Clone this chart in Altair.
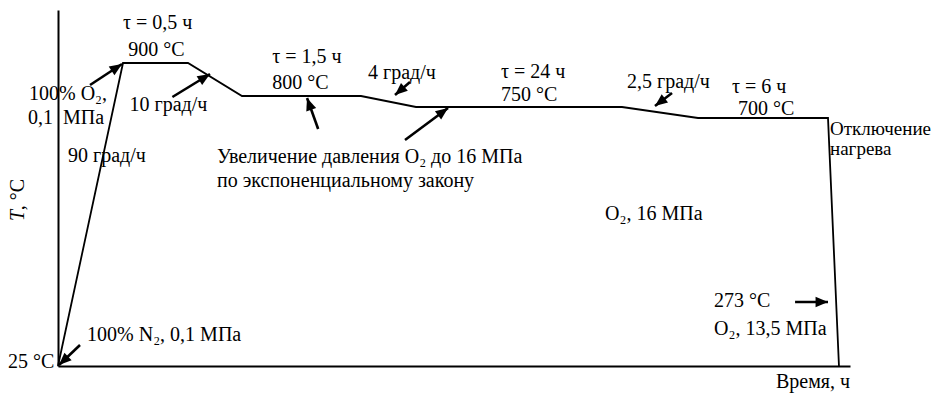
import altair as alt
import pandas as pd

# ---- heat-treatment profile (time in h, temperature in °C) ----
time_h = [0, 9.72, 10.22, 20.22, 21.72, 34.22, 58.22, 78.22, 84.22, 87.6]
temp_c = [25, 900, 900, 800, 800, 750, 750, 700, 700, 25]

# ---- schematic (non-uniform) axis breakpoints ----
x_breaks = [0, 9.72, 10.22, 20.22, 21.72, 34.22, 58.22, 78.22, 84.22, 91]
x_pixels = [0, 65, 130, 184, 303, 358, 564, 640, 770, 792]
y_breaks = [25, 700, 750, 800, 900, 1060]
y_pixels = [356, 108, 97, 86, 53, 0]

# ---- annotations ----
label_text = [
    "τ = 0,5 ч", "900 °C", "100% O₂,", "0,1\u00a0\u00a0МПа", "10 град/ч", "90 град/ч",
    "τ = 1,5 ч", "800 °C", "4 град/ч", "τ = 24 ч", "750 °C",
    "Увеличение давления O₂ до 16 МПа", "по экспоненциальному закону",
    "2,5 град/ч", "τ = 6 ч", "700 °C",
    "O₂, 16 МПа", "273 °C", "O₂, 13,5 МПа", "Время, ч", "25 °C",
    "100% N₂, 0,1 МПа",
]
label_t = [
    9.72, 9.76, -4.34, -4.49, 9.77, 1.50,
    20.60, 20.60, 23.31, 44.12, 44.12,
    15.59, 15.59,
    59.54, 79.79, 80.07,
    56.24, 78.96, 78.96, 81.82, -7.48,
    4.34,
]
label_T = [
    1002.6, 921.1, 781.8, 683.7, 731.8, 580.2,
    900.0, 821.2, 851.5, 854.5, 777.3,
    577.5, 512.2,
    824.2, 809.1, 713.6,
    422.4, 185.6, 109.4, -34.9, 19.5,
    93.0,
]

# label at the right edge ("heating off")
edge_text = ["Отключение", "нагрева"]
edge_t = [84.84, 84.84]
edge_T = [653.7, 599.3]

# arrows: tail -> tip
arrow_t0 = [4.79, 10.10, 3.29, 21.18, 31.72, 32.86, 71.38, 82.70]
arrow_T0 = [833.3, 795.5, 82.2, 670.1, 640.1, 842.4, 809.1, 199.2]
arrow_t1 = [9.57, 14.29, 0.15, 21.04, 37.95, 29.45, 66.90, 84.22]
arrow_T1 = [897.0, 866.7, 27.7, 790.9, 745.5, 803.0, 754.5, 199.2]
arrow_dir = [56.7, 58.1, 226.4, 340.5, 53.3, 229.0, 232.6, 90.0]

# axis title pieces (rotated)
ytitle_text = ["T", ", °C"]
ytitle_t = [-5.08, -5.08]
ytitle_T = [419.7, 449.0]

FONT = "Liberation Serif"
FS = 20

xscale = alt.Scale(type="linear", domain=x_breaks, range=x_pixels, nice=False, zero=False)
yscale = alt.Scale(type="linear", domain=y_breaks, range=y_pixels, nice=False, zero=False)
xaxis = alt.Axis(domain=True, ticks=False, labels=False, grid=False, title=None,
                 domainColor="black", domainWidth=2)
yaxis = alt.Axis(domain=True, ticks=False, labels=False, grid=False, title=None,
                 domainColor="black", domainWidth=2)


def X(f):
    return alt.X(f, type="quantitative", scale=xscale, axis=xaxis)


def Y(f):
    return alt.Y(f, type="quantitative", scale=yscale, axis=yaxis)


profile = pd.DataFrame({"t": time_h, "T": temp_c, "order": range(len(time_h))})
labels = pd.DataFrame({"t": label_t, "T": label_T, "text": label_text})
edge = pd.DataFrame({"t": edge_t, "T": edge_T, "text": edge_text})
arrows = pd.DataFrame({"t": arrow_t0, "T": arrow_T0, "t1": arrow_t1, "T1": arrow_T1,
                       "dir": arrow_dir})
heads = pd.DataFrame({"t": arrow_t1, "T": arrow_T1, "dir": arrow_dir})
ytitle = pd.DataFrame({"t": ytitle_t, "T": ytitle_T, "text": ytitle_text,
                       "style": ["italic", "normal"]})

line = alt.Chart(profile).mark_line(color="black", strokeWidth=1.8).encode(
    x=X("t"), y=Y("T"), order="order:Q")

text = alt.Chart(labels).mark_text(font=FONT, fontSize=FS, align="left",
                                   baseline="alphabetic", color="black").encode(
    x=X("t"), y=Y("T"), text="text:N")

edge_lbl = alt.Chart(edge).mark_text(font=FONT, fontSize=19, align="left",
                                     baseline="alphabetic", color="black").encode(
    x=X("t"), y=Y("T"), text="text:N")

shaft = alt.Chart(arrows).mark_rule(color="black", strokeWidth=2.6).encode(
    x=X("t"), y=Y("T"), x2="t1", y2="T1")

head = alt.Chart(heads).mark_point(
    shape="M0,0L-0.42,1L0.42,1Z", filled=True, color="black", opacity=1,
    size=620, strokeWidth=0).encode(
    x=X("t"), y=Y("T"), angle=alt.Angle("dir:Q", scale=None))

yt_italic = alt.Chart(ytitle[ytitle["style"] == "italic"]).mark_text(
    font=FONT, fontSize=FS, fontStyle="italic", angle=270, align="left",
    baseline="alphabetic", color="black").encode(x=X("t"), y=Y("T"), text="text:N")
yt_normal = alt.Chart(ytitle[ytitle["style"] == "normal"]).mark_text(
    font=FONT, fontSize=FS, angle=270, align="left",
    baseline="alphabetic", color="black").encode(x=X("t"), y=Y("T"), text="text:N")

chart = alt.layer(line, shaft, head, text, edge_lbl, yt_italic, yt_normal).properties(
    width=792, height=356,
    autosize=alt.AutoSizeParams(type="none"),
    padding={"left": 50, "top": 2, "right": 82, "bottom": 28},
    background="white",
).configure_view(stroke=None)

chart.save("out.html", embed_options={"renderer": "svg", "actions": False})
